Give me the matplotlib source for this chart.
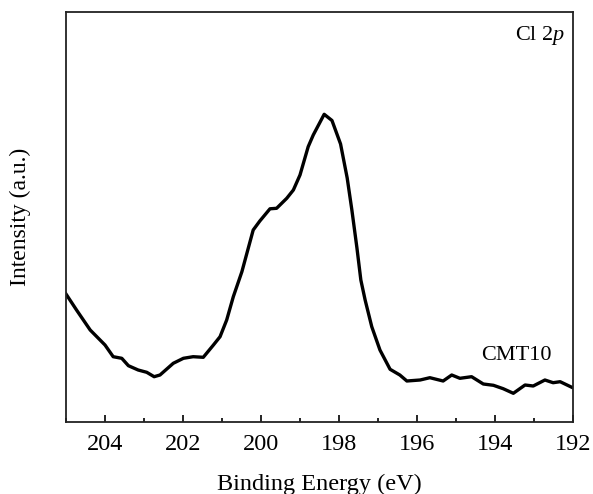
import matplotlib
matplotlib.use("Agg")
import matplotlib.pyplot as plt
from matplotlib.ticker import MultipleLocator, NullLocator

plt.rcParams['font.family'] = ['Liberation Serif', 'DejaVu Serif']
plt.rcParams['mathtext.fontset'] = 'custom'
plt.rcParams['mathtext.rm'] = 'Liberation Serif'
plt.rcParams['mathtext.it'] = 'Liberation Serif:italic'

binding_energy = [205.00, 204.73, 204.38, 204.00, 203.79, 203.57, 203.40, 203.15, 202.93, 202.74,
                  202.59, 202.25, 201.99, 201.74, 201.48, 201.22, 201.05, 200.88, 200.71, 200.49,
                  200.20, 200.03, 199.77, 199.60, 199.34, 199.17, 199.00, 198.79, 198.66, 198.38,
                  198.18, 197.96, 197.79, 197.67, 197.54, 197.44, 197.33, 197.16, 196.95, 196.69,
                  196.44, 196.26, 195.92, 195.67, 195.33, 195.11, 194.90, 194.60, 194.30, 194.04,
                  193.79, 193.53, 193.23, 193.02, 192.72, 192.51, 192.33, 192.03]
intensity = [128, 112, 92, 77, 65.3, 63.7, 56.3, 52, 49.7, 45.3,
             47, 58.7, 63.7, 65.3, 64.7, 77, 85.3, 102, 125.3, 150.3,
             192, 201, 213.2, 213.7, 223.7, 232, 247, 275.3, 287, 307.7,
             301.5, 278, 244, 212, 174, 142, 122, 95.3, 72, 52.7,
             47, 41, 42, 44.3, 41, 47, 43.7, 45.3, 38, 36.7,
             33.3, 28.7, 37, 36, 42, 39.3, 40.3, 34.7]
x_ticks = [204, 202, 200, 198, 196, 194, 192]

fig = plt.figure(figsize=(5.93, 4.94), dpi=100)
ax = fig.add_axes([66/593, 72/494, 507/593, 410/494])
ax.plot(binding_energy, intensity, color='black', lw=2.4, solid_joinstyle='round')
ax.set_xlim(205, 192)
ax.set_ylim(0, 410)
ax.set_xticks(x_ticks)
ax.set_xticklabels([str(t) for t in x_ticks])
ax.xaxis.set_minor_locator(MultipleLocator(1))
ax.yaxis.set_major_locator(NullLocator())
ax.tick_params(axis='x', which='major', direction='in', length=5, width=1.2, labelsize=17.5, pad=8.5, top=False)
ax.tick_params(axis='x', which='minor', direction='in', length=3, width=1.2, top=False)
for s in ax.spines.values():
    s.set_linewidth(1.3)
    s.set_color('#222222')
ax.set_xlabel('Binding Energy (eV)', fontsize=17.5, labelpad=14)
ax.set_ylabel('Intensity (a.u.)', fontsize=17, labelpad=25)
ax.text(0.984, 0.932, r'Cl 2$\mathit{p}$', transform=ax.transAxes, ha='right', va='baseline', fontsize=16)
ax.text(0.9586, 0.151, 'CMT10', transform=ax.transAxes, ha='right', va='baseline', fontsize=16)
fig.savefig('out.png', dpi=100)
